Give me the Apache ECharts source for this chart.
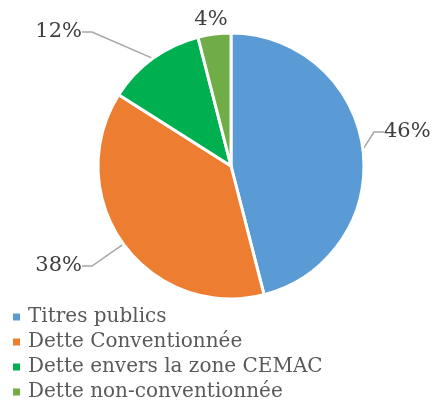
<!DOCTYPE html>
<html>
<head>
<meta charset="utf-8">
<script src="https://cdn.jsdelivr.net/npm/echarts@6/dist/echarts.min.js"></script>
<style>
  html, body { margin: 0; padding: 0; background: #fff; }
  #chart { width: 433px; height: 401px; }
</style>
</head>
<body>
<div id="chart"></div>
<script>
const categories = ["Titres publics", "Dette Conventionnée", "Dette envers la zone CEMAC", "Dette non-conventionnée"]
const shares = [46, 38, 12, 4]
const colors = ["#5B9BD5", "#ED7D31", "#00B050", "#70AD47"]

// label spots
const labelSpots = [
  { x: 384, y: 132, align: "left" },
  { x: 82, y: 266, align: "right" },
  { x: 82, y: 32, align: "right" },
  { x: 211, y: 20, align: "center" },
]

const squareIcon = "path://M0,0H10V10H0Z"

const chart = echarts.init(document.getElementById("chart"))

chart.setOption({
  animation: false,
  color: colors,
  legend: {
    orient: "vertical",
    left: 11,
    top: 307,
    height: 110,
    padding: 0,
    itemWidth: 9,
    itemHeight: 9,
    itemGap: 5,
    icon: squareIcon,
    textStyle: { fontFamily: "DejaVu Serif", fontSize: 20, color: "#595959", padding: [0, 0, 0, 2] },
    data: categories,
  },
  series: [
    {
      type: "pie",
      center: [231, 166],
      radius: [0, 133],
      startAngle: 90,
      clockwise: true,
      itemStyle: { borderColor: "#fff", borderWidth: 3 },
      label: {
        formatter: "{c}%",
        fontFamily: "DejaVu Serif",
        fontSize: 21,
        color: "#404040",
        overflow: "none",
      },
      labelLine: { lineStyle: { color: "#a6a6a6", width: 1.5 }, length: 8, length2: 10 },
      labelLayout: (params) => {
        const s = labelSpots[params.dataIndex]
        return { x: s.x, y: s.y, align: s.align, verticalAlign: "middle" }
      },
      data: categories.map((name, i) => ({
        name,
        value: shares[i],
        labelLine: { show: i !== 3 },
      })),
    },
  ],
})
</script>
</body>
</html>
